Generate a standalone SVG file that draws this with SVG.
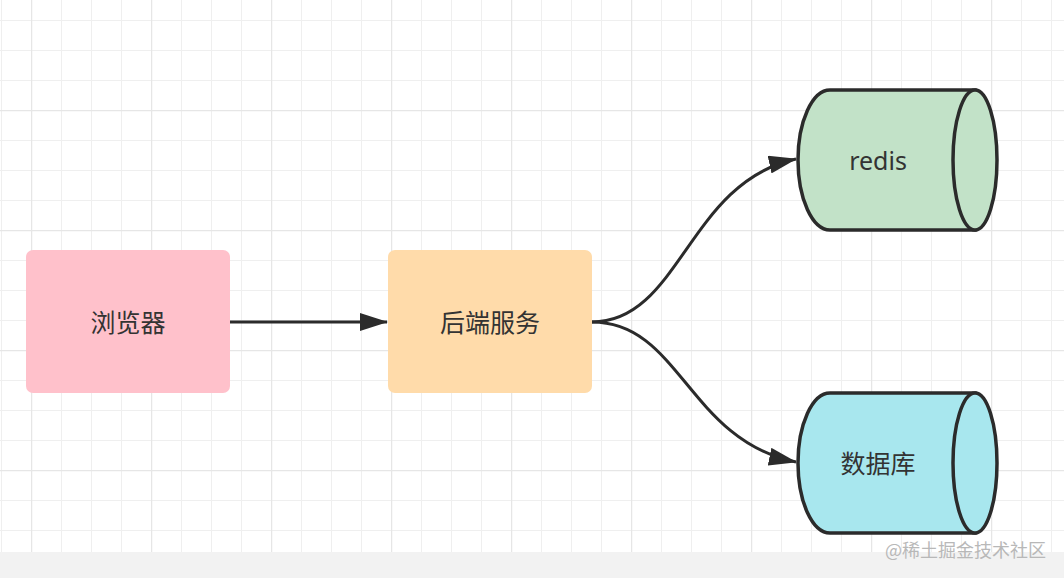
<svg xmlns="http://www.w3.org/2000/svg" width="1064" height="578" viewBox="0 0 1064 578">
<style>
.lbl{font-family:"Noto Sans","Noto Sans CJK SC",sans-serif;font-size:25px;fill:#333;text-anchor:middle;dominant-baseline:central}
.conn{fill:none;stroke:#2b2b2b;stroke-width:3}
.cyl{stroke:#2b2b2b;stroke-width:3.5}
.wm{font-family:"Noto Sans CJK SC",sans-serif;font-size:18px;fill:#b8b8b8}
</style>
<defs>
<pattern id="minor" x="1" y="20" width="30" height="30" patternUnits="userSpaceOnUse">
<path d="M0 0V30M0 0H30" stroke="#efefef" stroke-width="2" fill="none"/>
</pattern>
<pattern id="major" x="31" y="-10" width="120" height="120" patternUnits="userSpaceOnUse">
<path d="M0 0V120M0 0H120" stroke="#e6e6e6" stroke-width="2.5" fill="none"/>
</pattern>
<marker id="arr" viewBox="0 0 28 18" refX="27" refY="9" markerWidth="28" markerHeight="18" markerUnits="userSpaceOnUse" orient="auto">
<path d="M0 0L28 9L0 18Z" fill="#2b2b2b"/>
</marker>
</defs>
<rect width="1064" height="578" fill="#fff"/>
<rect width="1064" height="552" fill="url(#minor)"/>
<rect width="1064" height="552" fill="url(#major)"/>
<rect y="552" width="1064" height="26" fill="#f2f2f2"/>
<g id="connectors">
<path class="conn" d="M230 322H387" marker-end="url(#arr)"/>
<path class="conn" d="M592 322C680 322 688 182 796 159" marker-end="url(#arr)"/>
<path class="conn" d="M592 322C680 322 688 440 796 462" marker-end="url(#arr)"/>
</g>
<g id="browser">
<rect x="26" y="250" width="204" height="143" rx="7" fill="#ffc1cb"/>
<text class="lbl" x="128" y="322">浏览器</text>
</g>
<g id="backend">
<rect x="388" y="250" width="204" height="143" rx="7" fill="#ffdbaa"/>
<text class="lbl" x="490" y="322">后端服务</text>
</g>
<g id="redis">
<path class="cyl" d="M975 90H830A32 70 0 0 0 830 230H975Z" fill="#c2e2c8"/>
<ellipse class="cyl" cx="975" cy="160" rx="22" ry="70" fill="#c2e2c8"/>
<text class="lbl" x="878" y="160">redis</text>
</g>
<g id="database">
<path class="cyl" d="M975 393H830A32 70 0 0 0 830 533H975Z" fill="#a8e7ee"/>
<ellipse class="cyl" cx="975" cy="463" rx="22" ry="70" fill="#a8e7ee"/>
<text class="lbl" x="878" y="463">数据库</text>
</g>
<text class="wm" x="885" y="557">@稀土掘金技术社区</text>
</svg>
